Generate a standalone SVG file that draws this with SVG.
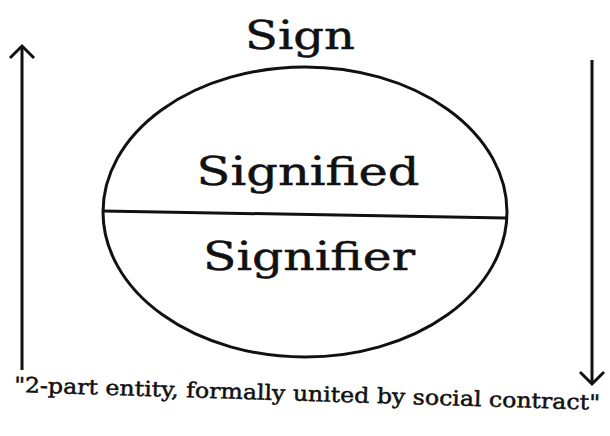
<svg xmlns="http://www.w3.org/2000/svg" width="610" height="436" viewBox="0 0 610 436">
<style>
.t{font-family:"DejaVu Serif","Liberation Serif",serif;fill:#111;stroke:#111;stroke-width:0.5;}
.big{font-size:40px;}
.ln{stroke:#111;fill:none;stroke-width:3;}
</style>
<defs>
<marker id="ah" viewBox="0 0 30 30" refX="27" refY="15" markerWidth="30" markerHeight="30" markerUnits="userSpaceOnUse" orient="auto">
<path d="M15,3 L27,15 L15,27" fill="none" stroke="#111" stroke-width="3" stroke-linejoin="miter"/>
</marker>
</defs>
<rect width="610" height="436" fill="#fff"/>
<g id="sign-label"><text class="t big" x="300" y="49" text-anchor="middle" textLength="110" lengthAdjust="spacingAndGlyphs">Sign</text></g>
<g id="sign">
<ellipse cx="305" cy="212" rx="202" ry="145" class="ln" stroke-width="3.5"/>
<line x1="103" y1="211" x2="506" y2="218" class="ln" stroke-width="2.5"/>
</g>
<g id="signified"><text class="t big" x="308" y="185" text-anchor="middle" textLength="223" lengthAdjust="spacingAndGlyphs">Signified</text></g>
<g id="signifier"><text class="t big" x="309" y="270" text-anchor="middle" textLength="212" lengthAdjust="spacingAndGlyphs">Signifier</text></g>
<g id="connectors">
<path d="M22,370 L22,46" class="ln" marker-end="url(#ah)"/>
<path d="M592,60 L592,384" class="ln" marker-end="url(#ah)"/>
</g>
<g id="caption"><text class="t" font-size="21" x="14" y="392" transform="rotate(1.75 14 392)" textLength="586" lengthAdjust="spacingAndGlyphs">"2-part entity, formally united by social contract"</text></g>
</svg>
